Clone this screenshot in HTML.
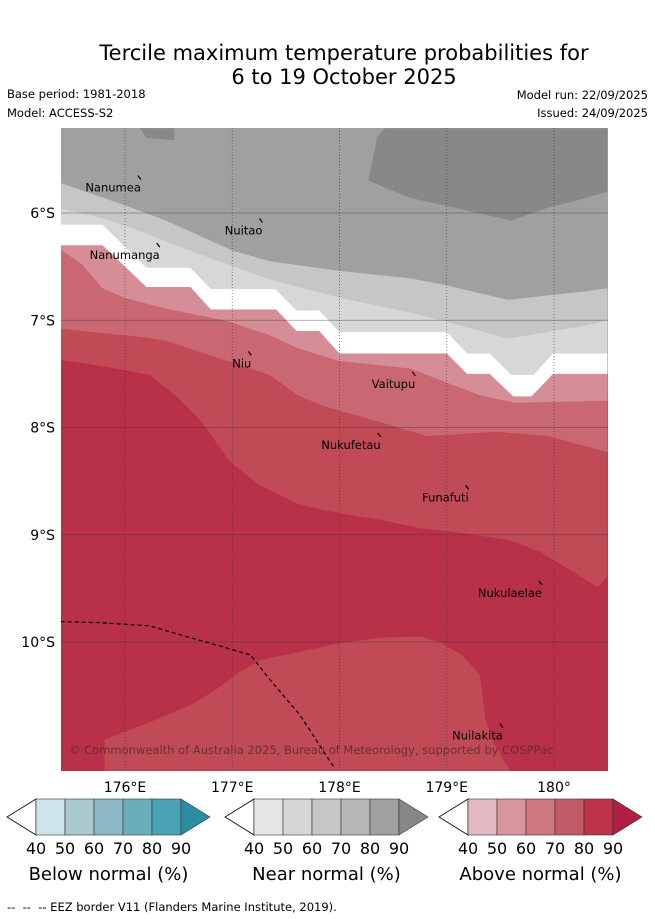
<!DOCTYPE html>
<html><head><meta charset="utf-8"><style>
body{margin:0;background:#fff;width:655px;height:919px;overflow:hidden;font-family:"Liberation Sans","DejaVu Sans",sans-serif}
svg{position:absolute;left:0;top:0}
</style></head><body>
<svg id="fig" width="655" height="919" viewBox="0 0 655 919" xmlns="http://www.w3.org/2000/svg" font-family="DejaVu Sans, Liberation Sans, sans-serif">
<text x="344" y="60" font-size="21" text-anchor="middle">Tercile maximum temperature probabilities for</text>
<text x="344" y="84" font-size="21" text-anchor="middle">6 to 19 October 2025</text>
<text x="7" y="98" font-size="11.5">Base period: 1981-2018</text>
<text x="7" y="117" font-size="11.5">Model: ACCESS-S2</text>
<text x="648" y="99" font-size="11.5" text-anchor="end">Model run: 22/09/2025</text>
<text x="648" y="117" font-size="11.5" text-anchor="end">Issued: 24/09/2025</text>
<defs><clipPath id="mc"><rect x="61" y="128" width="547" height="643"/></clipPath></defs>
<g id="map" clip-path="url(#mc)"></g>
<g id="axes"></g>
<g id="legend"></g>
<text x="7" y="911" font-size="11.5">-- &#160;-- &#160;-- EEZ border V11 (Flanders Marine Institute, 2019).</text>
</svg>
<script>
const lonTicks=[176,177,178,179,180];
const lonTickLabels=["176°E","177°E","178°E","179°E","180°"];
const latTicks=[6,7,8,9,10];
const latTickLabels=["6°S","7°S","8°S","9°S","10°S"];
const B1=[[175.40,7.37],[175.86,7.44],[176.23,7.51],[176.47,7.70],[176.70,7.93],[176.98,8.32],[177.26,8.54],[177.63,8.72],[178.00,8.80],[178.38,8.86],[178.75,8.94],[179.12,8.98],[179.59,9.05],[179.87,9.16],[180.15,9.33],[180.41,9.49],[180.50,9.38]];
const bottomPatch=[[175.81,11.20],[175.81,10.91],[176.23,10.75],[176.61,10.59],[176.84,10.45],[177.07,10.28],[177.26,10.17],[177.63,10.09],[178.00,10.01],[178.38,9.96],[178.75,9.95],[178.93,10.00],[179.14,10.12],[179.31,10.31],[179.36,10.73],[179.45,10.96],[179.59,11.20]];
const B2=[[175.40,7.08],[176.19,7.16],[176.38,7.19],[177.35,7.51],[177.61,7.70],[177.85,7.80],[178.17,7.89],[178.82,8.08],[179.47,8.04],[179.95,8.08],[180.50,8.23]];
const B3=[[175.40,6.34],[175.60,6.48],[175.79,6.70],[175.99,6.79],[176.38,6.89],[176.96,7.01],[177.35,7.14],[177.61,7.26],[178.00,7.38],[178.66,7.45],[179.05,7.60],[179.31,7.70],[179.64,7.77],[180.50,7.75]];
const B4=[[175.40,6.30],[175.79,6.30],[176.20,6.69],[176.61,6.69],[176.80,6.90],[177.41,6.90],[177.60,7.10],[177.81,7.10],[178.00,7.31],[179.00,7.31],[179.19,7.50],[179.40,7.50],[179.62,7.71],[179.79,7.71],[179.99,7.50],[180.50,7.50]];
const B5=[[175.40,6.11],[175.79,6.11],[176.20,6.51],[176.61,6.51],[176.80,6.71],[177.40,6.71],[177.60,6.91],[177.81,6.91],[178.00,7.11],[179.00,7.11],[179.19,7.31],[179.40,7.31],[179.60,7.51],[179.81,7.51],[179.99,7.31],[180.50,7.31]];
const B6=[[175.40,5.96],[175.73,6.03],[176.06,6.14],[176.71,6.39],[177.35,6.62],[178.00,6.79],[178.66,6.93],[178.98,7.01],[179.57,7.17],[180.30,7.05],[180.50,7.00]];
const B7=[[175.40,5.72],[176.06,5.95],[176.38,6.07],[177.00,6.35],[177.35,6.45],[178.00,6.54],[178.66,6.61],[178.98,6.67],[179.57,6.81],[180.30,6.73],[180.50,6.70]];
const darkPatch=[[178.42,5.21],[178.35,5.30],[178.27,5.70],[178.66,5.86],[178.98,5.93],[179.60,6.07],[179.95,5.95],[180.30,5.86],[180.50,5.80],[180.50,5.21]];
const darkSmall=[[176.14,5.21],[176.20,5.30],[176.46,5.32],[176.46,5.21]];
const eez=[[175.40,9.81],[175.77,9.82],[176.23,9.85],[176.47,9.92],[176.79,10.01],[177.17,10.12],[177.35,10.35],[177.63,10.68],[177.95,11.17]];
const islandNames=["Nanumea","Nuitao","Nanumanga","Niu","Vaitupu","Nukufetau","Funafuti","Nukulaelae","Nuilakita"];
const islandLon=[175.63,176.93,175.67,177.00,178.30,177.83,178.77,179.29,179.05];
const islandLat=[5.80,6.20,6.43,7.44,7.63,8.20,8.69,9.58,10.91];

const LON0=176,X0=125,LAT0=6,Y0=213,K=107.25;
const xs=lon=>X0+(lon-LON0)*K;
const ys=lat=>Y0+(lat-LAT0)*K;
const NS="http://www.w3.org/2000/svg";
const map=document.getElementById('map');
const axes=document.getElementById('axes');
function mk(tag,attrs,parent){const e=document.createElementNS(NS,tag);for(const k in attrs)e.setAttribute(k,attrs[k]);parent.appendChild(e);return e;}
function pts(a){return a.map(p=>xs(p[0]).toFixed(1)+','+ys(p[1]).toFixed(1)).join(' ');}
function above(b){const first=b[0],last=b[b.length-1];return pts(b)+' '+xs(last[0])+','+ys(5.0)+' '+xs(first[0])+','+ys(5.0);}

let r=mk('rect',{x:61,y:128,width:547,height:643,fill:'#b93148'},map);


const bands=[[B1,'#c14a57','band-above-70'],[B2,'#c96872','band-above-60'],[B3,'#d58e97','band-above-50'],[B4,'#ffffff','band-no-dominant'],[B5,'#d7d7d7','band-near-50'],[B6,'#c6c6c6','band-near-60'],[B7,'#a0a0a0','band-near-80']];
bands.forEach(b=>{
  const p=mk('polygon',{points:above(b[0]),fill:b[1]},map);
  
  
});
let bp=mk('polygon',{points:pts(bottomPatch),fill:'#c14a57'},map);


[darkPatch,darkSmall].forEach(d=>{
  const p=mk('polygon',{points:pts(d),fill:'#888888'},map);
  
  
});
lonTicks.forEach(l=>{
  const g=mk('line',{x1:xs(l),x2:xs(l),y1:128,y2:771,stroke:'#333',"stroke-width":0.8,"stroke-dasharray":"1,2","stroke-opacity":0.7},map);
  
  
});
latTicks.forEach(l=>{
  const g=mk('line',{x1:61,x2:608,y1:ys(l),y2:ys(l),stroke:'#333',"stroke-width":0.8,"stroke-opacity":0.5},map);
  
  
});
let ez=mk('polyline',{points:pts(eez),fill:'none',stroke:'#000',"stroke-width":1.2,"stroke-dasharray":"4,3"},map);


islandNames.forEach((n,i)=>{
  const t=mk('text',{x:xs(islandLon[i]),y:ys(islandLat[i]),"font-size":11.5,"text-anchor":"start",fill:'#000'},map);
  t.textContent=n;
  
  
  const w=t.getComputedTextLength?t.getComputedTextLength():n.length*7;
  const m=mk('line',{x1:xs(islandLon[i])+w-3,y1:ys(islandLat[i])-16,x2:xs(islandLon[i])+w,y2:ys(islandLat[i])-12,stroke:'#000',"stroke-width":1.2},map);
  
  
});
let cp=mk('text',{x:69,y:754,"font-size":11.5,fill:'#5a2a30',"fill-opacity":0.85},map);
cp.textContent='© Commonwealth of Australia 2025, Bureau of Meteorology, supported by COSPPac';



lonTicks.forEach((l,i)=>{
  const t=mk('text',{x:xs(l),y:792,"font-size":14,"text-anchor":"middle"},axes);
  t.textContent=lonTickLabels[i];
  
  
});
latTicks.forEach((l,i)=>{
  const t=mk('text',{x:55,y:ys(l)+5,"font-size":14,"text-anchor":"end"},axes);
  t.textContent=latTickLabels[i];
  
  
});

const legendLabels=["40","50","60","70","80","90"];
const legendTitles=["Below normal (%)","Near normal (%)","Above normal (%)"];
const legendColors=[["#cce4ea","#a9c9ce","#8bb8c4","#6aaebb","#4aa3b4","#2b8da0"],["#e5e5e5","#d6d6d6","#c6c6c6","#b6b6b6","#a0a0a0","#878787"],["#e2b9c0","#d9959d","#ce7880","#c35a68","#bc3349","#b01f3f"]];
const legendX=[36,254,468];
const lg=document.getElementById('legend');
legendX.forEach((x0,j)=>{
  const g=mk('g',{},lg);
  
  
  const y0=799,h=36,w=29;
  mk('polygon',{points:`${x0},${y0} ${x0-29},${y0+h/2} ${x0},${y0+h}`,fill:'#fff',stroke:'#000',"stroke-width":0.8},g);
  for(let i=0;i<5;i++) mk('rect',{x:x0+i*w,y:y0,width:w,height:h,fill:legendColors[j][i],stroke:'#333',"stroke-width":0.6},g);
  mk('polygon',{points:`${x0+5*w},${y0} ${x0+6*w},${y0+h/2} ${x0+5*w},${y0+h}`,fill:legendColors[j][5],stroke:'#333',"stroke-width":0.6},g);
  legendLabels.forEach((lab,i)=>{
    const t=mk('text',{x:x0+i*w,y:854,"font-size":16,"text-anchor":"middle"},g);
    t.textContent=lab;
    
    
  });
  const tt=mk('text',{x:x0+2.5*w,y:880,"font-size":18,"text-anchor":"middle"},g);
  tt.textContent=legendTitles[j];
  
  
});
</script>
</body></html>
